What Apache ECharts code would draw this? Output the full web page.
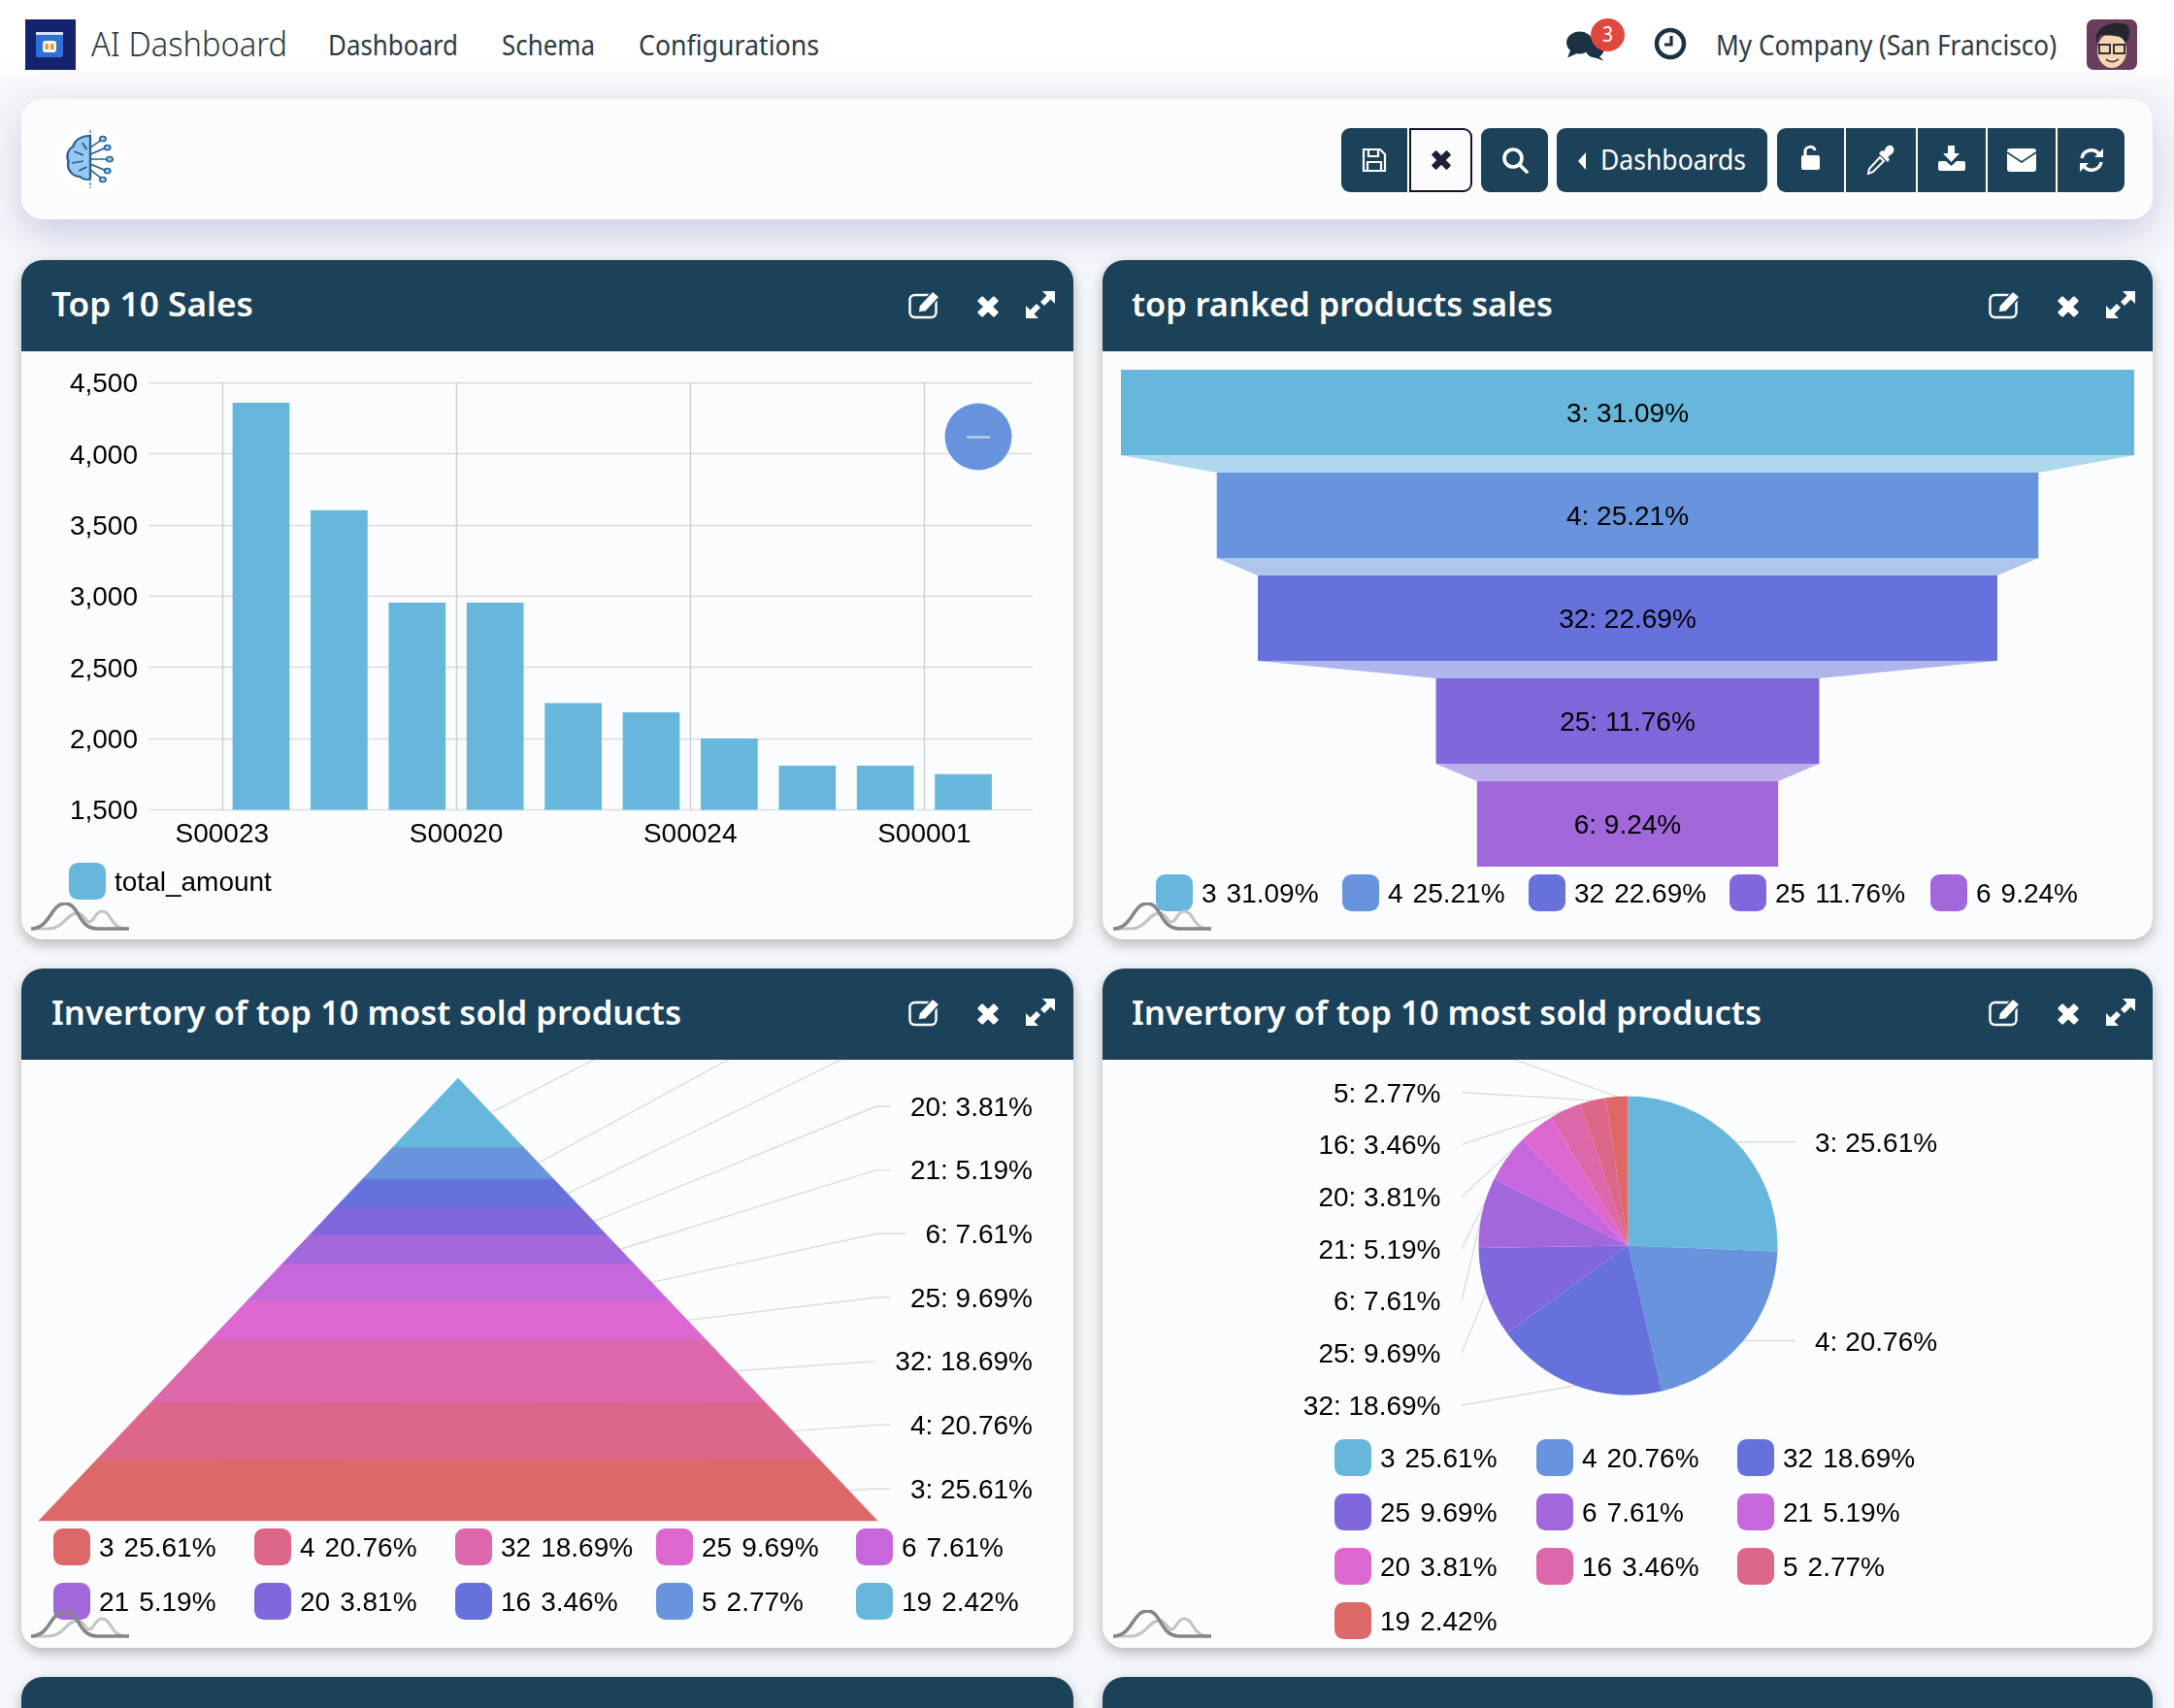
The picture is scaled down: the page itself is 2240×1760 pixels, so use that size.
<!DOCTYPE html>
<html>
<head>
<meta charset="utf-8">
<script src="https://cdn.jsdelivr.net/npm/echarts@6/dist/echarts.min.js"></script>
<style>
html,body{margin:0;padding:0;width:2240px;height:1760px;overflow:hidden;background:#f6f7fa;font-family:"Noto Sans",sans-serif;}
.abs{position:absolute;}
#nav{left:0;top:0;width:2240px;height:92px;background:linear-gradient(#ffffff 0,#ffffff 62px,#f6f6fa 92px);}
.t{position:absolute;white-space:nowrap;transform-origin:left center;line-height:1;}
.nav{font-size:28.5px;color:#2e3a44;font-weight:400;}
#bar{left:22px;top:102px;width:2196px;height:124px;background:#fcfcfd;border-radius:22px;box-shadow:0 14px 38px rgba(90,90,170,.28);}
.btn{position:absolute;top:132px;height:66px;background:#1b4259;display:flex;align-items:center;justify-content:center;box-sizing:border-box;}
.card{position:absolute;background:#fbfcfd;border-radius:22px;overflow:hidden;box-shadow:none;}
.shadow{position:absolute;border-radius:22px;box-shadow:0 5px 14px rgba(0,0,0,.28);}
.head{position:absolute;left:0;top:0;right:0;height:94px;background:#1b4259;}
.title{font-size:35px;color:#fff;font-weight:600;}
.chart{position:absolute;left:0;top:94px;}
.logo{position:absolute;width:101px;height:30px;pointer-events:none;}
.ic{position:absolute;}
</style>
</head>
<body>
<div id="nav" class="abs"></div>
<svg class="abs" style="left:26px;top:20px" width="52" height="52" viewBox="0 0 52 52"><rect width="52" height="52" fill="#14236b"/><rect x="11" y="13" width="28" height="26" rx="2" fill="#2f6fd8"/><rect x="11" y="13" width="28" height="3" fill="#d9e6fa"/><rect x="18" y="22" width="14" height="12" rx="3" fill="#f4f7fb"/><rect x="20.5" y="25" width="3.5" height="6" fill="#e0a030"/><rect x="26" y="25" width="3.5" height="6" fill="#e0a030"/></svg>
<div class="t" data-w="202" style="left:94px;top:28px;font-size:34px;font-weight:300;color:#2e3a44;">AI Dashboard</div>
<div class="t nav" data-w="134" style="left:338px;top:32px;">Dashboard</div>
<div class="t nav" data-w="96" style="left:517px;top:32px;">Schema</div>
<div class="t nav" data-w="186" style="left:658px;top:32px;">Configurations</div>
<svg class="abs" style="left:1612px;top:25px" width="50" height="42" viewBox="0 0 48 40"><ellipse cx="15" cy="18" rx="13" ry="11" fill="#1b3144"/><path d="M6 25 L3 33 L14 28Z" fill="#1b3144"/><ellipse cx="30" cy="25" rx="9" ry="8" fill="#1b3144"/><path d="M33 30 L39 36 L28 32Z" fill="#1b3144"/></svg>
<div class="abs" style="left:1639px;top:19px;width:35px;height:34px;border-radius:50%;background:#e0483e;"></div>
<div class="t" data-w="11" style="left:1651px;top:25px;font-size:21px;color:#fff;">3</div>
<svg class="abs" style="left:1704px;top:28px" width="34" height="34" viewBox="0 0 34 34"><circle cx="17" cy="17" r="14" fill="none" stroke="#1b3144" stroke-width="4.5"/><path d="M18 9 V18 H11" fill="none" stroke="#1b3144" stroke-width="3.2"/></svg>
<div class="t nav" data-w="351" style="left:1768px;top:32px;">My Company (San Francisco)</div>
<svg class="abs" style="left:2150px;top:20px" width="52" height="52" viewBox="0 0 52 52"><rect width="52" height="52" rx="7" fill="#6b3d5c"/><ellipse cx="26" cy="32" rx="15" ry="18" fill="#f6d7b5"/><path d="M10 24 C6 6 30 0 42 6 C46 12 44 22 40 24 C36 14 22 18 14 16 Z" fill="#26262e"/><rect x="13" y="26" width="11" height="9" fill="none" stroke="#333" stroke-width="2"/><rect x="28" y="26" width="11" height="9" fill="none" stroke="#333" stroke-width="2"/><path d="M20 41 Q26 46 33 41" stroke="#7a3f2f" stroke-width="2" fill="#fff"/></svg>

<div id="bar" class="abs"></div>
<svg class="abs" style="left:60px;top:132px" width="66" height="64" viewBox="0 0 56 64" preserveAspectRatio="none"><ellipse cx="28" cy="32" rx="27" ry="32" fill="#ffffff"/><path d="M28 8 C18 8 14 14 13 19 C8 22 7 30 9 34 C7 42 12 50 19 50 C22 54 28 53 28 52 Z" fill="#96c8f2" stroke="#27618f" stroke-width="2"/><path d="M28 2 V62" stroke="#27618f" stroke-width="1" stroke-dasharray="3 1.5"/><path d="M14 24 L22 28 M12 36 L22 34 M18 44 L25 40 M21 15 L25 22" stroke="#27618f" stroke-width="1.6" fill="none"/><path d="M28 20 L38 12 M28 27 L42 20 M28 32 L44 32 M28 37 L42 44 M28 43 L38 52" stroke="#27618f" stroke-width="1.6" fill="none"/><g fill="#a9d2f5" stroke="#27618f" stroke-width="1.5"><circle cx="39" cy="11" r="2.6"/><circle cx="43" cy="20" r="2.6"/><circle cx="45" cy="32" r="2.6"/><circle cx="43" cy="44" r="2.6"/><circle cx="39" cy="53" r="2.6"/></g></svg>

<div class="btn" style="left:1382px;width:68px;border-radius:9px 0 0 9px;"><svg width="26" height="26" viewBox="0 0 26 26" fill="none" stroke="#fff" stroke-width="2.2"><path d="M2 2 H19 L24 7 V24 H2 Z"/><path d="M7 2 V9 H17 V2 M6 24 V15 H20 V24"/></svg></div>
<div class="btn" style="left:1452px;width:65px;background:#fcfcfd;border:2.5px solid #14142b;border-radius:0 9px 9px 0;"><svg width="24" height="24" viewBox="0 0 22 22"><path d="M3 6 L6 3 L11 8 L16 3 L19 6 L14 11 L19 16 L16 19 L11 14 L6 19 L3 16 L8 11 Z" fill="#1b2235" stroke="#1b2235" stroke-width="2" stroke-linejoin="round"/></svg></div>
<div class="btn" style="left:1526px;width:69px;border-radius:9px;"><svg width="28" height="28" viewBox="0 0 28 28" fill="none" stroke="#fff" stroke-width="3.6"><circle cx="12" cy="12" r="9"/><path d="M19 19 L26 26" stroke-linecap="round"/></svg></div>
<div class="btn" style="left:1604px;width:217px;border-radius:9px;"></div>
<svg class="abs" style="left:1625px;top:157px" width="10" height="18" viewBox="0 0 10 18"><path d="M9 0 V18 L1 9Z" fill="#fff"/></svg>
<div class="t" data-w="150" style="left:1649px;top:149px;font-size:29px;color:#fff;">Dashboards</div>
<div class="btn" style="left:1831px;width:69px;border-radius:9px 0 0 9px;"><svg style="margin-top:-6px" width="20" height="26" viewBox="0 0 20 26"><rect y="11" width="19" height="15" rx="2" fill="#fff"/><path d="M4 11 V7 C4 1 14 1 14 6" fill="none" stroke="#fff" stroke-width="3"/></svg></div>
<div class="btn" style="left:1902px;width:72px;"><svg width="30" height="32" viewBox="0 0 30 32"><path d="M2 30 L3 25 L14 13 L18 17 L7 28 Z" fill="none" stroke="#fff" stroke-width="2"/><path d="M13 9 L22 18 L24 15 L22 13 L27 9 C30 6 28 1 25 1 C22 0 20 3 18 7 L16 6Z" fill="#fff"/></svg></div>
<div class="btn" style="left:1976px;width:70px;"><svg style="margin-top:-4px" width="28" height="26" viewBox="0 0 28 26"><path d="M10 0 H17 V8 H22 L13.500 17 L5 8 H10Z" fill="#fff"/><path d="M2 16 H8 L13.500 21 L19 16 H26 Q28 16 28 18 V24 Q28 26 26 26 H2 Q0 26 0 24 V18 Q0 16 2 16Z" fill="#fff"/></svg></div>
<div class="btn" style="left:2048px;width:70px;"><svg width="30" height="24" viewBox="0 0 30 24"><rect width="30" height="24" rx="3" fill="#fff"/><path d="M0 4 L15 14 L30 4" fill="none" stroke="#1b4259" stroke-width="1.6"/></svg></div>
<div class="btn" style="left:2120px;width:69px;border-radius:0 9px 9px 0;"><svg width="26" height="26" viewBox="0 0 26 26" fill="none" stroke="#fff" stroke-width="3.4"><path d="M3 11 A10 10 0 0 1 21 7"/><path d="M23 15 A10 10 0 0 1 5 19"/><path d="M25 1 V10 H16Z M1 25 V16 H10Z" fill="#fff" stroke="none"/></svg></div>

<div class="shadow" style="left:22px;top:268px;width:1084px;height:700px;"></div>
<div class="shadow" style="left:1136px;top:268px;width:1082px;height:700px;"></div>
<div class="shadow" style="left:22px;top:998px;width:1084px;height:700px;"></div>
<div class="shadow" style="left:1136px;top:998px;width:1082px;height:700px;"></div>
<div class="shadow" style="left:22px;top:1728px;width:1084px;height:100px;"></div>
<div class="shadow" style="left:1136px;top:1728px;width:1082px;height:100px;"></div>

<div class="card" style="left:22px;top:268px;width:1084px;height:700px;"><div class="head"></div><div id="c1" class="chart" style="width:1084px;height:606px;"></div></div>
<div class="card" style="left:1136px;top:268px;width:1082px;height:700px;"><div class="head"></div><div id="c2" class="chart" style="width:1082px;height:606px;"></div></div>
<div class="card" style="left:22px;top:998px;width:1084px;height:700px;"><div class="head"></div><div id="c3" class="chart" style="width:1084px;height:606px;"></div></div>
<div class="card" style="left:1136px;top:998px;width:1082px;height:700px;"><div class="head"></div><div id="c4" class="chart" style="width:1082px;height:606px;"></div></div>
<div class="card" style="left:22px;top:1728px;width:1084px;height:100px;"><div class="head"></div></div>
<div class="card" style="left:1136px;top:1728px;width:1082px;height:100px;"><div class="head"></div></div>

<div class="t title" data-w="208" style="left:53px;top:295px;">Top 10 Sales</div>
<div class="t title" data-w="434" style="left:1166px;top:295px;">top ranked products sales</div>
<div class="t title" data-w="649" style="left:53px;top:1025px;">Invertory of top 10 most sold products</div>
<div class="t title" data-w="649" style="left:1166px;top:1025px;">Invertory of top 10 most sold products</div>

<svg width="0" height="0" style="position:absolute"><defs>
<g id="edit"><rect x="1.500" y="5" width="27" height="23" rx="5" fill="none" stroke="#fff" stroke-width="2.4"/><path d="M10 23 L11 16 L25 1 L32 7 L18 22 Z" fill="#fff" stroke="#1b4259" stroke-width="1.6"/></g>
<g id="x"><path d="M3 6 L6 3 L11 8 L16 3 L19 6 L14 11 L19 16 L16 19 L11 14 L6 19 L3 16 L8 11 Z" fill="#fff" stroke="#fff" stroke-width="2" stroke-linejoin="round"/></g>
<g id="exp"><path d="M17 0 H30 V13 L25.500 8.500 L19 15 L15 11 L21.500 4.500Z M0 15 L4.500 19.500 L11 13 L15 17 L8.500 23.500 L13 28 H0Z" fill="#fff"/></g>
<g id="am"><path d="M0 27 H18 C34 27 36 11 48 11 C55 11 55 20 60 20 C65 20 66 9 73 9 C84 9 80 27 100 27" fill="none" stroke="#c4c4c4" stroke-width="3.200"/><path d="M0 27 C20 27 20 1 35 1 C50 1 48 27 68 27 H101" fill="none" stroke="#868686" stroke-width="3.600"/></g>
</defs></svg>
<svg class="ic" style="left:936px;top:299px" width="34" height="30"><use href="#edit"/></svg>
<svg class="ic" style="left:1005px;top:303px" width="26" height="26" viewBox="0 0 22 22"><use href="#x"/></svg>
<svg class="ic" style="left:1057px;top:300px" width="30" height="28"><use href="#exp"/></svg>
<svg class="ic" style="left:2049px;top:299px" width="34" height="30"><use href="#edit"/></svg>
<svg class="ic" style="left:2118px;top:303px" width="26" height="26" viewBox="0 0 22 22"><use href="#x"/></svg>
<svg class="ic" style="left:2170px;top:300px" width="30" height="28"><use href="#exp"/></svg>
<svg class="ic" style="left:936px;top:1028px" width="34" height="30"><use href="#edit"/></svg>
<svg class="ic" style="left:1005px;top:1032px" width="26" height="26" viewBox="0 0 22 22"><use href="#x"/></svg>
<svg class="ic" style="left:1057px;top:1029px" width="30" height="28"><use href="#exp"/></svg>
<svg class="ic" style="left:2049px;top:1028px" width="34" height="30"><use href="#edit"/></svg>
<svg class="ic" style="left:2118px;top:1032px" width="26" height="26" viewBox="0 0 22 22"><use href="#x"/></svg>
<svg class="ic" style="left:2170px;top:1029px" width="30" height="28"><use href="#exp"/></svg>

<svg class="logo" style="left:32px;top:930px" viewBox="0 0 101 30"><use href="#am"/></svg>
<svg class="logo" style="left:1147px;top:930px" viewBox="0 0 101 30"><use href="#am"/></svg>
<svg class="logo" style="left:32px;top:1659px" viewBox="0 0 101 30"><use href="#am"/></svg>
<svg class="logo" style="left:1147px;top:1659px" viewBox="0 0 101 30"><use href="#am"/></svg>

<script>
// ---------- data ----------
const palette = ['#67b7dc','#6794dc','#6771dc','#8067dc','#a367dc','#c767dc','#dc67ce','#dc67ab','#dc6788','#dc6967'];
const salesCategories = ['S00023','','','S00020','','','S00024','','','S00001'];
const salesValues = [4360,3605,2955,2955,2250,2185,2000,1810,1810,1750];
const salesTicks = {min:1500,max:4500,interval:500};
const funnelNames = ['3','4','32','25','6'];
const funnelValues = [31.09,25.21,22.69,11.76,9.24];
const stockNames = ['3','4','32','25','6','21','20','16','5','19'];
const stockValues = [25.61,20.76,18.69,9.69,7.61,5.19,3.81,3.46,2.77,2.42];
// ---------- shared style ----------
const FONT = '"Liberation Sans",Arial,sans-serif';
const FS = 28;
const TXT = {fontFamily:FONT,fontSize:FS,color:'#000'};
const LINE = '#dcdcdc';
const measure = document.createElement('canvas').getContext('2d');
measure.font = FS+'px '+FONT;
const pct = v => v.toFixed(2)+'%';
function legendItem(name,value,left,top){
  const label = value===null ? name : '{n|'+name+'}{v|'+pct(value)+'}';
  return {show:true,data:[name],left,top,padding:0,itemWidth:38,itemHeight:38,icon:'roundRect',selectedMode:false,
    formatter:()=>label,
    textStyle:Object.assign({},TXT,{padding:[5,0,0,4],rich:{
      n:Object.assign({},TXT,{padding:[0,10,0,0]}),
      v:Object.assign({},TXT)
    }})};
}

// ---------- bar ----------
const c1 = echarts.init(document.getElementById('c1'));
const barBand = 804/salesValues.length;
c1.setOption({
  animation:false,
  grid:[
    {left:131,width:911,top:32.4,height:440},   // horizontal rules
    {left:206.8,width:804,top:32.4,height:440}, // bars and category axis
    {left:131,width:911,top:34.6,height:440}    // value-axis labels
  ],
  xAxis:[
    {gridIndex:0,type:'category',show:false,data:salesCategories},
    {gridIndex:1,type:'category',data:salesCategories,axisLine:{show:false},axisTick:{show:false},
      axisLabel:Object.assign({},TXT,{interval:2,margin:12,padding:[0,barBand,0,0]}),
      splitLine:{show:true,interval:2,showMaxLine:false,lineStyle:{color:'#cfcfd2',width:1.4}}},
    {gridIndex:2,type:'category',show:false,data:salesCategories}
  ],
  yAxis:[
    Object.assign({gridIndex:0,type:'value',axisLine:{show:false},axisTick:{show:false},axisLabel:{show:false},
      splitLine:{lineStyle:{color:'#dcdcde',width:1.4}}},salesTicks),
    Object.assign({gridIndex:1,type:'value',show:false,splitLine:{show:false}},salesTicks),
    Object.assign({gridIndex:2,type:'value',axisLine:{show:false},axisTick:{show:false},
      axisLabel:Object.assign({},TXT,{margin:11}),splitLine:{show:false}},salesTicks)
  ],
  legend:[legendItem('total_amount',null,49,527)],
  series:[{type:'bar',name:'total_amount',xAxisIndex:1,yAxisIndex:1,barWidth:'73%',data:salesValues,itemStyle:{color:palette[0]},z:3,silent:true}],
  graphic:[
    {type:'circle',shape:{cx:986,cy:88,r:34.5},style:{fill:'#6794dc'},z:10},
    {type:'line',shape:{x1:974,y1:88.5,x2:998,y2:88.5},style:{stroke:'#c9d8f2',lineWidth:2},z:11}
  ]
});

// ---------- funnel ----------
const c2 = echarts.init(document.getElementById('c2'));
const funnelMax = Math.max(...funnelValues);
const rectShare = 88/106;
function funnelItem(i){
  return function(params,api){
    const v = funnelValues[i];
    const color = palette[i];
    const tl = api.coord([-v/2,i]), tr = api.coord([v/2,i]);
    const bl = api.coord([-v/2,i+rectShare]), br = api.coord([v/2,i+rectShare]);
    const children = [{type:'polygon',shape:{points:[tl,tr,br,bl]},style:{fill:color}}];
    if(i<funnelValues.length-1){
      const n = funnelValues[i+1];
      children.unshift({type:'polygon',shape:{points:[bl,br,api.coord([n/2,i+1]),api.coord([-n/2,i+1])]},style:{fill:color,opacity:.52}});
    }
    children.push({type:'text',x:(tl[0]+tr[0])/2,y:(tl[1]+bl[1])/2+2,style:{text:funnelNames[i]+': '+pct(v),align:'center',verticalAlign:'middle',font:FS+'px '+FONT,fill:'#000'}});
    return {type:'group',children};
  };
}
const funnelLegendX = [55,247,439,646,853];
c2.setOption({
  animation:false,
  grid:{left:19,width:1044,top:19,height:530},
  xAxis:{type:'value',show:false,min:-funnelMax/2,max:funnelMax/2},
  yAxis:{type:'value',show:false,inverse:true,min:0,max:funnelNames.length},
  legend:funnelNames.map((n,i)=>legendItem(n,funnelValues[i],funnelLegendX[i],539)),
  series:funnelNames.map((n,i)=>({type:'custom',name:n,coordinateSystem:'cartesian2d',itemStyle:{color:palette[i]},silent:true,clip:false,
    data:[[funnelValues[i],i]],renderItem:funnelItem(i)}))
});

// ---------- pyramid ----------
const c3 = echarts.init(document.getElementById('c3'));
const stockTotal = stockValues.reduce((a,b)=>a+b,0);
const pyramidColors = palette.slice().reverse();
const pyramidRowGap = 65.67, pyramidLastLabelY = 444, pyramidTextRight = 1042, pyramidElbowX = 881;
function pyramidItem(i){
  return function(params,api){
    let above = 0; for(let k=stockValues.length-1;k>i;k--) above += stockValues[k];
    const a = Math.sqrt(above/stockTotal), b = Math.sqrt((above+stockValues[i])/stockTotal), m = (a+b)/2;
    const pts = [api.coord([-a,a]),api.coord([a,a]),api.coord([b,b]),api.coord([-b,b])];
    const start = api.coord([m,m]);
    const labelY = pyramidLastLabelY - i*pyramidRowGap;
    const text = stockNames[i]+': '+pct(stockValues[i]);
    const left = pyramidTextRight - measure.measureText(text).width;
    const children = [
      {type:'polyline',shape:{points:[start,[pyramidElbowX,labelY-2],[left-20,labelY-2]]},style:{stroke:LINE,lineWidth:1.4,fill:'none'}},
      {type:'polygon',shape:{points:pts},style:{fill:pyramidColors[i],stroke:pyramidColors[i],lineWidth:0.6}}
    ];
    if(labelY>0) children.push({type:'text',x:pyramidTextRight,y:labelY,style:{text,align:'right',verticalAlign:'middle',font:FS+'px '+FONT,fill:'#000'}});
    return {type:'group',children};
  };
}
const stockColsX = [33,240,447,654,860];
c3.setOption({
  animation:false,
  grid:{left:18,width:864,top:19,height:456},
  xAxis:{type:'value',show:false,min:-1,max:1},
  yAxis:{type:'value',show:false,inverse:true,min:0,max:1},
  legend:stockNames.map((n,i)=>legendItem(n,stockValues[i],stockColsX[i%5],483+56*Math.floor(i/5))),
  series:stockNames.map((n,i)=>({type:'custom',name:n,coordinateSystem:'cartesian2d',itemStyle:{color:pyramidColors[i]},silent:true,clip:false,
    data:[[stockValues[i],i]],renderItem:pyramidItem(i)}))
});

// ---------- pie ----------
const c4 = echarts.init(document.getElementById('c4'));
const pieColsX = [239,447,654];
c4.setOption({
  animation:false,
  color:palette,
  legend:stockNames.map((n,i)=>legendItem(n,stockValues[i],pieColsX[i%3],391+56*Math.floor(i/3))),
  series:[{type:'pie',center:[541.5,191.5],radius:[0,154],startAngle:90,clockwise:true,avoidLabelOverlap:false,silent:true,
    data:stockNames.map((n,i)=>({name:n,value:stockValues[i]})),
    label:Object.assign({},TXT,{formatter:p=>p.name+': '+pct(p.value)}),
    labelLine:{show:true,lineStyle:{color:LINE,width:1.4}},
    labelLayout:function(p){
      const start = p.labelLinePoints ? p.labelLinePoints[0] : [0,0];
      if(p.dataIndex<2){
        const y = start[1];
        return {x:734,y:y+3,align:'left',verticalAlign:'middle',labelLinePoints:[start,[714,y],[714,y]]};
      }
      const y = 358 - (p.dataIndex-2)*53.7;
      return {x:348.5,y,align:'right',verticalAlign:'middle',labelLinePoints:[start,[370,y-2],[370,y-2]]};
    }
  }]
});

// ---------- fit chrome text to measured widths ----------
document.querySelectorAll('[data-w]').forEach(el=>{
  const w = el.getBoundingClientRect().width;
  el.style.transform = 'scaleX('+(parseFloat(el.dataset.w)/w)+')';
});
</script>
</body>
</html>
